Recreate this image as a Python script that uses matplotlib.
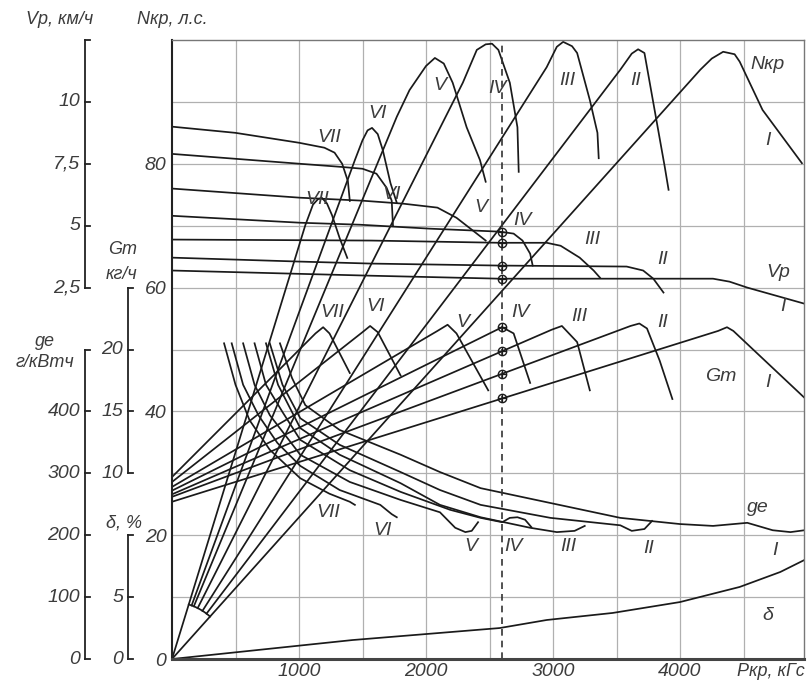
import matplotlib
matplotlib.use("Agg")
import matplotlib.pyplot as plt
import numpy as np

plt.rcParams['font.family'] = ['Liberation Sans', 'DejaVu Sans']
plt.rcParams['font.style'] = 'italic'

gears = ["I", "II", "III", "IV", "V", "VI", "VII"]

# Nкр, л.с. (тяговая мощность)
nkp_p = [[0, 4160, 4250, 4340, 4430, 4470, 4650, 4960],
         [0, 3530, 3620, 3670, 3720, 3800, 3880, 3910],
         [0, 2950, 3030, 3080, 3150, 3190, 3290, 3350, 3360],
         [0, 2290, 2400, 2470, 2520, 2570, 2660, 2720, 2730],
         [0, 1770, 1870, 2000, 2070, 2140, 2210, 2320, 2425, 2470],
         [0, 1440, 1500, 1540, 1575, 1620, 1660, 1720, 1770],
         [0, 1050, 1110, 1150, 1180, 1220, 1260, 1320, 1380]]
nkp_n = [[0, 95.2, 97.0, 98.1, 97.7, 96.5, 88.7, 80.1],
         [0, 95.2, 97.8, 98.5, 97.9, 88.7, 79.5, 75.8],
         [0, 95.6, 98.9, 99.7, 99.0, 97.9, 90.3, 85.0, 80.9],
         [0, 93.1, 98.4, 99.3, 99.4, 98.4, 93.1, 85.9, 78.7],
         [0, 87.6, 91.9, 95.8, 97.1, 96.2, 93.1, 85.9, 80.6, 77.1],
         [0, 80.6, 83.8, 85.4, 85.8, 84.8, 82.2, 76.9, 73.7],
         [0, 70.1, 73.4, 74.3, 74.5, 73.6, 71.7, 68.0, 64.8]]

# Vр, км/ч (рабочая скорость)
vp_p = [[0, 1570, 2580, 4260, 4390, 4530, 4980],
        [0, 1010, 1570, 2580, 3580, 3710, 3790, 3870],
        [0, 1570, 2580, 2950, 3060, 3210, 3320, 3370],
        [0, 1010, 1480, 2030, 2580, 2690, 2760, 2820, 2840],
        [0, 1010, 1500, 1820, 2090, 2240, 2350, 2470],
        [0, 1010, 1320, 1500, 1610, 1690, 1730, 1740],
        [0, 500, 1000, 1200, 1280, 1340, 1385, 1400]]
vp_v = [[3.19, 2.98, 2.86, 2.86, 2.74, 2.50, 1.85],
        [3.71, 3.55, 3.47, 3.39, 3.35, 3.19, 2.86, 2.30],
        [4.44, 4.40, 4.31, 4.31, 4.19, 3.71, 3.19, 2.90],
        [5.40, 5.12, 5.04, 4.88, 4.76, 4.68, 4.40, 3.87, 3.39],
        [6.50, 6.13, 6.01, 5.89, 5.73, 5.32, 4.88, 4.40],
        [7.90, 7.50, 7.38, 7.30, 7.10, 6.53, 6.01, 5.00],
        [9.00, 8.75, 8.35, 8.15, 7.95, 7.50, 6.80, 6.00]]

# Gт, кг/ч (часовой расход топлива)
gm_p = [[0, 4300, 4370, 4420, 4980],
        [0, 3610, 3680, 3740, 3840, 3940],
        [0, 2990, 3070, 3190, 3290],
        [0, 2540, 2600, 2690, 2820],
        [0, 2090, 2170, 2240, 2490],
        [0, 1500, 1560, 1620, 1800],
        [0, 1130, 1190, 1240, 1400]]
gm_g = [[7.7, 21.5, 21.8, 21.5, 16.1],
        [8.1, 21.9, 22.1, 21.7, 19.1, 16.0],
        [8.3, 21.6, 21.9, 20.6, 16.7],
        [8.6, 21.5, 21.8, 21.3, 17.3],
        [8.9, 21.5, 22.0, 21.3, 16.7],
        [9.3, 21.4, 21.9, 21.4, 17.9],
        [9.7, 21.3, 21.8, 21.3, 18.1]]

# gе, г/кВтч (удельный расход топлива)
ge_p = [[850, 945, 1050, 1320, 1800, 2110, 2430, 2980, 3530, 4000, 4260, 4530, 4730, 4870, 4980],
        [770, 870, 1010, 1320, 1800, 2110, 2430, 2980, 3530, 3620, 3720, 3780],
        [740, 835, 1010, 1320, 1800, 2110, 2430, 2820, 3030, 3170, 3250],
        [650, 740, 870, 1010, 1400, 1800, 2190, 2430, 2600, 2660, 2720, 2780, 2830],
        [560, 650, 770, 1010, 1400, 1800, 2110, 2230, 2310, 2360, 2410],
        [470, 560, 680, 830, 1010, 1320, 1640, 1730, 1770],
        [410, 500, 610, 770, 1010, 1240, 1400, 1440]]
ge_g = [[510, 454, 410, 370, 330, 302, 276, 252, 228, 218, 215, 220, 208, 205, 208],
        [510, 443, 389, 346, 302, 273, 249, 228, 216, 207, 210, 223],
        [510, 443, 373, 330, 284, 249, 229, 212, 205, 207, 215],
        [510, 443, 399, 354, 305, 270, 241, 228, 221, 228, 229, 225, 213],
        [510, 443, 394, 330, 286, 257, 237, 212, 205, 207, 221],
        [510, 443, 394, 349, 312, 273, 249, 234, 229],
        [510, 443, 386, 338, 292, 267, 254, 249]]

# δ, % (буксование)
delta_p = [0, 1420, 2580, 2950, 3470, 4000, 4470, 4790, 4980]
delta_d = [0, 1.53, 2.5, 3.15, 3.72, 4.6, 5.82, 7.03, 8.0]

p_mark = 2600
marked = [0, 1, 2, 3]   # передачи I-IV, отмеченные на линии 2600 кГс


def vp_to_n(v):
    return 60 + 4 * (np.asarray(v) - 2.5)

def gm_to_n(g):
    return 30 + 2 * (np.asarray(g) - 10)

def ge_to_n(g):
    return np.asarray(g) / 10

def d_to_n(d):
    return 2 * np.asarray(d)


W, H = 811, 684
fig = plt.figure(figsize=(W / 100, H / 100), dpi=100)
x0, x1, y0, y1 = 172, 804, 40, 659
ax = fig.add_axes([x0 / W, 1 - y1 / H, (x1 - x0) / W, (y1 - y0) / H])
xmax = (x1 - x0) / 0.127
ax.set_xlim(0, xmax)
ax.set_ylim(0, 100)

lc = '#1a1a1a'
tc = '#3c3c3c'
lw = 1.25

for x in range(500, 5000, 500):
    ax.axvline(x, color='#b0b0b0', lw=0.9, zorder=0)
for y in range(10, 100, 10):
    ax.axhline(y, color='#b0b0b0', lw=0.9, zorder=0)

for s in ['top', 'right']:
    ax.spines[s].set_color('#777777')
    ax.spines[s].set_linewidth(1.0)
ax.spines['left'].set_linewidth(1.5)
ax.spines['left'].set_color('#222222')
ax.spines['bottom'].set_linewidth(2.2)
ax.spines['bottom'].set_color('#444444')

# пучок Nкр из начала координат, внутренние линии от дуги
sx = (x1 - x0) / xmax
sy = (y1 - y0) / 100.0
r_arc = 57
angles = []
for i in range(7):
    p = np.array(nkp_p[i], float)
    n = np.array(nkp_n[i], float)
    ang = np.arctan2(n[1] * sy, p[1] * sx)
    angles.append(ang)
    if 0 < i < 6:
        p[0] = r_arc * np.cos(ang) / sx
        n[0] = r_arc * np.sin(ang) / sy
    ax.plot(p, n, color=lc, lw=lw)
t = np.linspace(angles[0], angles[6], 30)
ax.plot(r_arc * np.cos(t) / sx, r_arc * np.sin(t) / sy, color=lc, lw=lw)

for i in range(7):
    ax.plot(vp_p[i], vp_to_n(vp_v[i]), color=lc, lw=lw)
    ax.plot(gm_p[i], gm_to_n(gm_g[i]), color=lc, lw=lw)
    ax.plot(ge_p[i], ge_to_n(ge_g[i]), color=lc, lw=lw)
ax.plot(delta_p, d_to_n(delta_d), color=lc, lw=lw)

ax.plot([p_mark, p_mark], [0, 100], color='#333333', lw=1.2, ls=(0, (4, 3)))
for i in marked:
    for yv in (vp_to_n(np.interp(p_mark, vp_p[i], vp_v[i])),
               gm_to_n(np.interp(p_mark, gm_p[i], gm_g[i]))):
        ax.plot(p_mark, yv, marker='o', ms=6, mfc='none', mec=lc, mew=1.0)
        ax.plot(p_mark, yv, marker='+', ms=6, mec=lc, mew=0.9)

# подписи передач
fs = 14
nkp_lab = [(4690, 83.8), (3650, 93.5), (3110, 93.5), (2560, 92.2), (2110, 92.7), (1620, 88.2), (1140, 74.2)]
vp_lab = [(4810, 56.9), (3860, 64.5), (3310, 67.7), (2760, 70.9), (2430, 73.0), (1730, 75.0), (1240, 84.3)]
gm_lab = [(4690, 44.6), (3860, 54.3), (3210, 55.3), (2740, 55.9), (2290, 54.3), (1600, 56.9), (1260, 55.9)]
ge_lab = [(4750, 17.6), (3750, 17.9), (3120, 18.1), (2690, 18.1), (2350, 18.1), (1660, 20.8), (1230, 23.6)]
for labs in (nkp_lab, vp_lab, gm_lab, ge_lab):
    for g, (px, py) in zip(gears, labs):
        ax.text(px, py, g, fontsize=fs, color=tc, ha='center', va='center')
ax.text(4690, 96.0, 'Nкр', fontsize=fs, color=tc, ha='center', va='center')
ax.text(4770, 62.5, 'Vр', fontsize=fs, color=tc, ha='center', va='center')
ax.text(4320, 45.6, 'Gт', fontsize=fs, color=tc, ha='center', va='center')
ax.text(4610, 24.4, 'gе', fontsize=fs, color=tc, ha='center', va='center')
ax.text(4690, 7.1, 'δ', fontsize=fs, color=tc, ha='center', va='center')

# основные оси
ax.set_xticks([1000, 2000, 3000, 4000])
ax.set_xticklabels(['1000', '2000', '3000', '4000'])
ax.set_yticks([0, 20, 40, 60, 80])
ax.set_yticklabels(['0', '20', '40', '60', '80'])
ax.tick_params(length=0, labelsize=14, labelcolor=tc)
ax.tick_params(axis='y', pad=4)
ax.tick_params(axis='x', pad=3)

# дополнительные шкалы слева
trans = ax.get_yaxis_transform()
tl = 5 / (x1 - x0)

def side_axis(xpx, lo, hi, ticks, labels, conv):
    xa = (xpx - x0) / (x1 - x0)
    ax.plot([xa, xa], [conv(lo), conv(hi)], transform=trans, clip_on=False, color='#222222', lw=1.3)
    for tk in ticks + [hi]:
        ax.plot([xa, xa + tl], [conv(tk), conv(tk)], transform=trans, clip_on=False, color='#222222', lw=1.3)
    for tk, lb in zip(ticks, labels):
        ax.text(xa - tl, conv(tk), lb, transform=trans, ha='right', va='center', fontsize=14, color=tc)

side_axis(85, 2.5, 12.5, [2.5, 5, 7.5, 10], ['2,5', '5', '7,5', '10'], vp_to_n)
side_axis(128, 10, 25, [10, 15, 20], ['10', '15', '20'], gm_to_n)
side_axis(85, 0, 500, [0, 100, 200, 300, 400], ['0', '100', '200', '300', '400'], ge_to_n)
side_axis(128, 0, 10, [0, 5], ['0', '5'], d_to_n)

def ftext(xp, yp, s, ha='center'):
    fig.text(xp / W, 1 - yp / H, s, ha=ha, va='center', fontsize=13, color=tc)

ftext(60, 20, 'Vр, км/ч')
ftext(172, 20, 'Nкр, л.с.')
ftext(123, 250, 'Gт')
ftext(122, 274, 'кг/ч')
ftext(45, 342, 'gе')
ftext(45, 362, 'г/кВтч')
ftext(124, 523, 'δ, %')
ftext(805, 671, 'Pкр, кГс', ha='right')

fig.savefig('out.png', dpi=100)
